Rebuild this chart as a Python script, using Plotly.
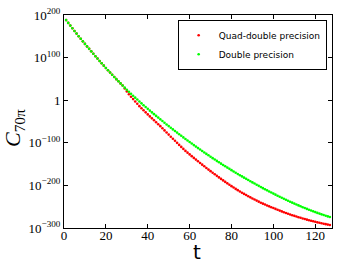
import plotly.graph_objects as go

# time steps
t_values = list(range(1, 128))

# log10 of C_70pi, double precision
double_exp = [
    188.0, 181.5, 175.1, 168.8, 162.5, 156.3, 150.2, 144.1, 138.1, 132.2,
    126.3, 120.5, 114.7, 109.0, 103.3, 97.7, 92.1, 86.6, 81.1, 75.7,
    70.3, 65.0, 59.8, 54.6, 49.4, 44.4, 39.4, 34.4, 29.5, 24.7,
    19.9, 15.2, 10.6, 6.0, 1.5, -3.0, -7.4, -11.7, -16.0, -20.3,
    -24.5, -28.6, -32.7, -36.8, -40.9, -44.9, -48.9, -52.9, -56.9, -60.8,
    -64.7, -68.5, -72.3, -76.1, -79.9, -83.6, -87.3, -91.0, -94.6, -98.2,
    -101.8, -105.4, -108.9, -112.4, -115.9, -119.3, -122.7, -126.1, -129.4, -132.7,
    -136.0, -139.3, -142.5, -145.7, -148.9, -152.0, -155.1, -158.2, -161.2, -164.2,
    -167.2, -170.2, -173.1, -176.0, -178.9, -181.8, -184.6, -187.4, -190.2, -193.0,
    -195.7, -198.4, -201.1, -203.8, -206.4, -209.0, -211.6, -214.2, -216.7, -219.2,
    -221.7, -224.2, -226.6, -229.0, -231.4, -233.7, -236.0, -238.3, -240.5, -242.7,
    -244.9, -247.0, -249.1, -251.2, -253.2, -255.2, -257.1, -259.0, -260.9, -262.7,
    -264.5, -266.2, -267.9, -269.6, -271.2, -272.8, -274.3,
]

# log10 of C_70pi, quad-double precision
quad_exp = [
    188.0, 181.5, 175.1, 168.8, 162.5, 156.3, 150.2, 144.1, 138.1, 132.2,
    126.3, 120.5, 114.7, 109.0, 103.3, 97.7, 92.1, 86.6, 81.1, 75.7,
    70.3, 65.0, 59.8, 54.6, 49.4, 44.4, 39.4, 34.4, 27.5, 20.7,
    13.9, 8.2, 2.6, -3.0, -8.5, -14.0, -18.9, -23.7, -28.5, -33.3,
    -38.0, -42.6, -47.2, -51.8, -56.4, -60.9, -65.9, -70.9, -75.9, -80.8,
    -85.7, -90.5, -95.3, -100.1, -104.9, -109.6, -114.3, -119.0, -123.1, -127.2,
    -131.3, -135.4, -139.4, -143.4, -147.4, -151.3, -155.2, -159.1, -162.9, -166.6,
    -170.3, -174.0, -177.6, -181.2, -184.8, -188.3, -191.8, -195.2, -198.5, -201.8,
    -205.0, -208.2, -211.2, -214.2, -217.1, -220.0, -222.7, -225.4, -228.1, -230.7,
    -233.2, -235.7, -238.2, -240.6, -242.8, -245.0, -247.1, -249.2, -251.2, -253.2,
    -255.2, -257.2, -259.1, -261.0, -262.9, -264.7, -266.5, -268.3, -269.9, -271.5,
    -273.1, -274.6, -276.1, -277.6, -279.0, -280.4, -281.7, -283.0, -284.3, -285.5,
    -286.7, -287.8, -288.9, -290.0, -291.0, -292.0, -292.9,
]

x_ticks = [0, 20, 40, 60, 80, 100, 120]
y_tick_exps = [-300, -200, -100, 0, 100, 200]
y_tick_text = ["10<sup>\u2212300</sup>", "10<sup>\u2212200</sup>", "10<sup>\u2212100</sup>",
               "1", "10<sup>100</sup>", "10<sup>200</sup>"]

quad_vals = [10.0 ** e for e in quad_exp]
double_vals = [10.0 ** e for e in double_exp]
y_tick_vals = [10.0 ** e for e in y_tick_exps]

fig = go.Figure()
fig.add_trace(go.Scatter(
    x=t_values, y=quad_vals, mode="markers", name="Quad-double precision",
    marker=dict(color="#ff0000", size=2.6, symbol="circle", line=dict(width=0)),
))
fig.add_trace(go.Scatter(
    x=t_values, y=double_vals, mode="markers", name="Double precision",
    marker=dict(color="#00ff00", size=2.6, symbol="circle", line=dict(width=0)),
))

serif = "Liberation Serif, DejaVu Serif, serif"
fig.update_layout(
    width=349, height=263,
    margin=dict(l=64, r=17, t=15, b=35, autoexpand=False),
    paper_bgcolor="white", plot_bgcolor="white",
    showlegend=True,
    legend=dict(
        x=0.98, y=0.978, xanchor="right", yanchor="top",
        bgcolor="white", bordercolor="black", borderwidth=1,
        font=dict(family="DejaVu Sans, sans-serif", size=9, color="black"),
        itemwidth=30, tracegroupgap=0,
    ),
    xaxis=dict(
        range=[0, 128], tickvals=x_ticks, ticks="inside", ticklen=4,
        tickcolor="black", showline=True, linecolor="black", linewidth=1,
        mirror="ticks", showgrid=False, zeroline=False, automargin=False,
        ticklabelstandoff=-5,
        tickfont=dict(family=serif, size=13, color="black"),
    ),
    yaxis=dict(
        type="log", range=[-300, 200], tickvals=y_tick_vals, ticktext=y_tick_text,
        ticks="inside", ticklen=4, tickcolor="black", showline=True,
        linecolor="black", linewidth=1, mirror="ticks", showgrid=False,
        zeroline=False, automargin=False,
        tickfont=dict(family=serif, size=13, color="black"),
    ),
    annotations=[
        dict(text="t", xref="paper", yref="paper", x=0.496, y=-0.112,
             xanchor="center", yanchor="middle", showarrow=False,
             font=dict(family="DejaVu Sans, sans-serif", size=20, color="black")),
        dict(text="<i>C</i><sub>70\u03c0</sub>", xref="paper", yref="paper",
             x=-0.186, y=0.47, xanchor="center", yanchor="middle",
             textangle=-90, showarrow=False,
             font=dict(family=serif, size=22, color="black")),
    ],
)

fig.write_html("out.html", config={"displayModeBar": False},
               post_script="document.body.style.margin='0';")
